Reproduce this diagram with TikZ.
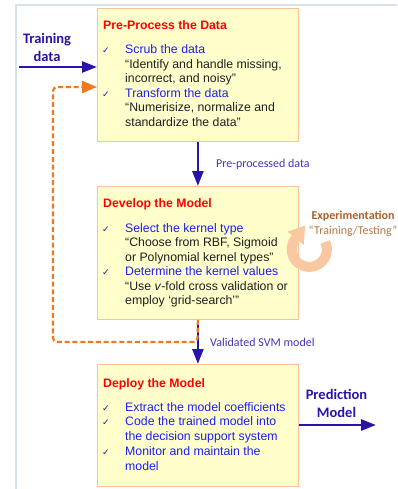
\documentclass[tikz,border=0pt]{standalone}
\usepackage{fontspec}
\setmainfont{Liberation Sans}
\newfontfamily\lblfont{Carlito}
\newfontfamily\chkfont{DejaVu Sans}
\usetikzlibrary{arrows.meta}
\definecolor{flowblue}{RGB}{40,20,170}
\definecolor{lblblue}{RGB}{70,50,190}
\definecolor{itemblue}{RGB}{30,30,240}
\definecolor{titlered}{RGB}{255,0,0}
\definecolor{chkblue}{RGB}{30,30,180}
\definecolor{loopor}{RGB}{240,120,30}
\definecolor{boxfill}{RGB}{255,255,204}
\definecolor{boxline}{RGB}{250,195,150}
\definecolor{ringcol}{RGB}{250,200,160}
\definecolor{expbrown}{RGB}{170,95,40}
\definecolor{framecol}{RGB}{215,225,237}
\begin{document}
\begin{tikzpicture}[x=1pt,y=-1pt,
  stagebox/.style={draw=boxline, fill=boxfill, line width=0.8pt, inner sep=0pt, minimum width=201pt, anchor=north west},
  ln/.style={anchor=base west, inner sep=0pt, font=\fontsize{12.3}{14.5}\selectfont, text=black!88},
  ttl/.style={ln, text=titlered, font=\fontsize{12.3}{14.5}\selectfont\bfseries},
  itm/.style={ln, text=itemblue},
  chk/.style={anchor=base west, inner sep=0pt, font=\chkfont\fontsize{9}{10}\selectfont, text=chkblue},
  biglbl/.style={inner sep=0pt, align=center, text=flowblue, font=\lblfont\fontsize{14.5}{18}\selectfont\bfseries},
  smlbl/.style={anchor=base west, inner sep=0pt, text=lblblue, font=\lblfont\fontsize{12}{14}\selectfont},
  flow/.style={draw=flowblue, line width=2.6pt, -{Triangle[length=15pt,width=11pt]}},
  loop/.style={draw=loopor, line width=2.2pt, dash pattern=on 5pt off 2.8pt, rounded corners=4pt, -{Triangle[length=15pt,width=12pt]}}
]
\useasboundingbox (0,0) rectangle (397,489);
% frame
\draw[framecol, line width=2pt] (16,489) -- (16,5) -- (397,5);

% boxes
\node[stagebox, minimum height=133pt] (b1) at (97,8) {};
\node[stagebox, minimum height=133pt] (b2) at (97,186) {};
\node[stagebox, minimum height=122pt] (b3) at (97,364) {};

% box 1 text
\node[ttl] (t1) at (103,30) {Pre-Process the Data};
\node[chk] (c1a) at (102,54) {✓};
\node[itm] (i1a) at (125,54) {Scrub the data};
\node[ln] (i1b) at (125,68.5) {“Identify and handle missing,};
\node[ln] (i1c) at (125,83) {incorrect, and noisy”};
\node[chk] (c1b) at (102,97.5) {✓};
\node[itm] (i1d) at (125,97.5) {Transform the data};
\node[ln] (i1e) at (125,112) {“Numerisize, normalize and};
\node[ln] (i1f) at (125,126.5) {standardize the data”};

% box 2 text
\node[ttl] (t2) at (103,207) {Develop the Model};
\node[chk] (c2a) at (102,232) {✓};
\node[itm] (i2a) at (125,232) {Select the kernel type};
\node[ln] (i2b) at (125,246.5) {“Choose from RBF, Sigmoid};
\node[ln] (i2c) at (125,261) {or Polynomial kernel types”};
\node[chk] (c2b) at (102,275.5) {✓};
\node[itm] (i2d) at (125,275.5) {Determine the kernel values};
\node[ln] (i2e) at (125,290) {“Use \textit{v}-fold cross validation or};
\node[ln] (i2f) at (125,304.5) {employ ‘grid-search’”};

% box 3 text
\node[ttl] (t3) at (103,387) {Deploy the Model};
\node[chk] (c3a) at (102,411) {✓};
\node[itm] (i3a) at (125,411) {Extract the model coefficients};
\node[chk] (c3b) at (102,425.5) {✓};
\node[itm] (i3b) at (125,425.5) {Code the trained model into};
\node[itm] (i3c) at (125,440.5) {the decision support system};
\node[chk] (c3c) at (102,455.5) {✓};
\node[itm] (i3d) at (125,455.5) {Monitor and maintain the};
\node[itm] (i3e) at (125,470) {model};

% input / output
\coordinate (inStart) at (19,67);
\coordinate (outEnd) at (376,425);
\node[biglbl] (lin) at (47,47) {Training\\data};
\node[biglbl] (lout) at (336.5,403) {Prediction\\Model};
\draw[flow] (inStart) -- (inStart -| b1.west);
\draw[flow] (b3.east |- outEnd) -- (outEnd);

% vertical flows
\draw[flow] (b1.south) -- (b2.north);
\draw[flow] (b2.south) -- (b3.north);
\node[smlbl] (lpre) at (216,167.5) {Pre-processed data};
\node[smlbl] (lval) at (210,346.5) {Validated SVM model};

% feedback loop
\coordinate (fbA) at (197.5,342);
\coordinate (fbB) at (53,342);
\coordinate (fbC) at (53,87);
\draw[loop] (b2.south) -- (fbA) -- (fbB) -- (fbC) -- (fbC -| b1.west);

% experimentation
\node[inner sep=0pt, anchor=base, text=expbrown, font=\lblfont\fontsize{12}{14}\selectfont\bfseries] (lexp) at (353,219.5) {Experimentation};
\node[inner sep=0pt, anchor=base, text=expbrown!85, font=\lblfont\fontsize{12}{14}\selectfont] (ltt) at (353,234.5) {“Training/Testing”};
\draw[ringcol, line width=10pt] (325.25,241.86) arc[start angle=-25, end angle=219, radius=17.6];
\fill[ringcol] (287.4,231.6) -- (305.1,225.5) -- (303.8,244.8) -- cycle;
\end{tikzpicture}
\end{document}
